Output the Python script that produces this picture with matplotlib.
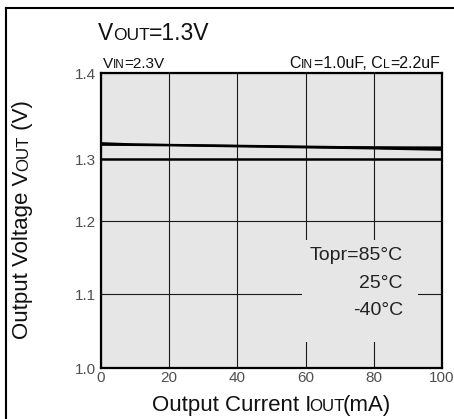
import numpy as np
import matplotlib
matplotlib.use("Agg")
import matplotlib.pyplot as plt
from matplotlib.transforms import IdentityTransform
from matplotlib.patches import Rectangle
from matplotlib.lines import Line2D

FONT = "Liberation Sans"
plt.rcParams["font.family"] = [FONT, "DejaVu Sans"]

# ---- data ----
iout = [0, 10, 20, 30, 40, 50, 60, 70, 80, 90, 100]
vout_85 = [1.3185, 1.3170, 1.3165, 1.3160, 1.3155, 1.3150, 1.3145, 1.3140, 1.3138, 1.3136, 1.3135]
vout_25 = [1.3172, 1.3168, 1.3163, 1.3158, 1.3152, 1.3146, 1.3140, 1.3134, 1.3128, 1.3122, 1.3116]
vout_m40 = [1.3165, 1.3162, 1.3158, 1.3152, 1.3146, 1.3140, 1.3134, 1.3128, 1.3122, 1.3114, 1.3106]
xticks = [0, 20, 40, 60, 80, 100]
yticks = [1.0, 1.1, 1.2, 1.3, 1.4]
ytick_labels = ["1.0", "1.1", "1.2", "1.3", "1.4"]
legend_lines = ["Topr=85°C", "25°C", "-40°C"]

W, H = 454, 419
fig = plt.figure(figsize=(W / 100, H / 100), dpi=100)
fig.patch.set_facecolor("white")

# axes placement (pixels from top-left)
L, R, T, B = 101, 442, 73, 368
ax = fig.add_axes([L / W, (H - B) / H, (R - L) / W, (B - T) / H])
ax.set_facecolor("#e6e6e6")

# the printed grid is not evenly spaced; reproduce it with a piecewise scale
_pk = [0, 74, 147, 209, 295]
def _fwd(v):
    return np.interp(v, yticks, _pk)
def _inv(p):
    return np.interp(p, _pk, yticks)
ax.set_yscale("function", functions=(_fwd, _inv))

ax.set_xlim(0, 100)
ax.set_ylim(1.0, 1.4)
ax.set_xticks(xticks)
ax.set_yticks(yticks)
ax.set_yticklabels(ytick_labels)
ax.tick_params(length=0, labelsize=11, labelcolor="#505050")
ax.tick_params(axis="x", pad=2.5)
ax.tick_params(axis="y", pad=3.5)
ax.set_axisbelow(True)
ax.grid(True, color="#1a1a1a", linewidth=0.8)
for gl, v in zip(ax.get_ygridlines(), yticks):
    if abs(v - 1.3) < 1e-9:
        gl.set_linewidth(1.8)
        gl.set_color("black")
for s in ax.spines.values():
    s.set_linewidth(1.6)
    s.set_color("black")

for vals in (vout_85, vout_25, vout_m40):
    ax.plot(iout, vals, color="black", linewidth=1.4, zorder=3)

# background box behind the temperature legend
ax.add_patch(Rectangle((59, 1.035), 34, 0.139, facecolor="#e6e6e6", edgecolor="none", zorder=1))
for txt, yv in zip(legend_lines, [1.153, 1.115, 1.078]):
    ax.text(88.5, yv, txt, ha="right", va="center", fontsize=14, color="#222222", zorder=4)

# rich text helper for small-caps subscripts
renderer = fig.canvas.get_renderer()
def rich(x, y_img, parts, ha="left", rotation=0, color="#111111", kern=0.0):
    y = H - y_img
    texts = []
    for s, size in parts:
        t = fig.text(0, 0, s, fontsize=size, color=color, ha="left", va="baseline",
                     rotation=rotation, rotation_mode="anchor", transform=IdentityTransform())
        texts.append(t)
    widths = []
    for t in texts:
        bb = t.get_window_extent(renderer)
        widths.append((bb.height if rotation == 90 else bb.width) - kern)
    total = sum(widths)
    pos = {"left": 0, "center": -total / 2, "right": -total}[ha]
    for t, w in zip(texts, widths):
        if rotation == 90:
            t.set_position((x, y + pos))
        else:
            t.set_position((x + pos, y))
        pos += w

big = 16.5
rich(98, 40, [("V", big), ("OUT", big * 0.76), ("=1.3V", big)], kern=0.5)
rich(103, 68, [("V", 11), ("IN", 11 * 0.76), ("=2.3V", 11)], kern=0.2)
rich(441, 68, [("C", 11.5), ("IN", 11.5 * 0.76), ("=1.0uF, C", 11.5), ("L", 11.5 * 0.76), ("=2.2uF", 11.5)],
     ha="right", kern=-0.6)
xl = 16
rich(270, 411, [("Output Current I", xl), ("OUT", xl * 0.76), ("(mA)", xl)], ha="center", kern=2.0)
yl = 16
rich(28, 220, [("Output Voltage V", yl), ("OUT", yl * 0.76), (" (V)", yl)], ha="center", rotation=90, kern=0.5)

# outer frame (top and left edges visible)
fig.add_artist(Line2D([6 / W, 1], [(H - 8) / H, (H - 8) / H], transform=fig.transFigure, color="black", lw=1.5))
fig.add_artist(Line2D([6 / W, 6 / W], [0, (H - 8) / H], transform=fig.transFigure, color="black", lw=1.5))

fig.savefig("out.png", dpi=100)
